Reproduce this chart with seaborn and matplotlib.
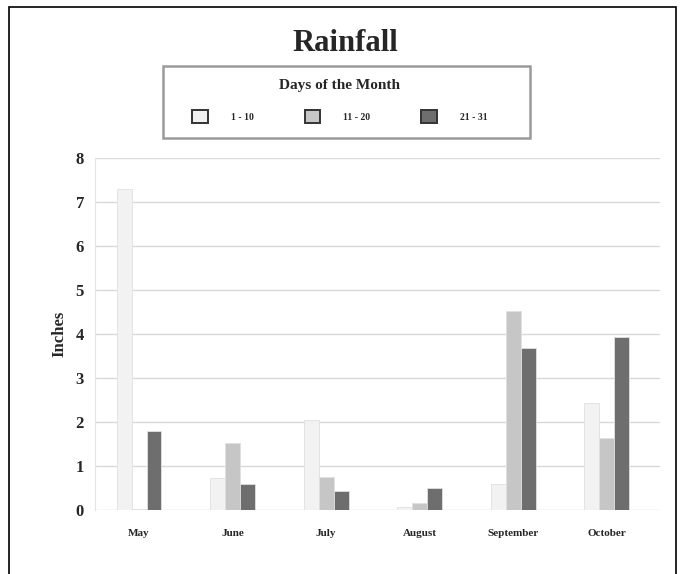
import seaborn as sns
import matplotlib.pyplot as plt
import matplotlib.patches as mpatches
import pandas as pd

months = ['May', 'June', 'July', 'August', 'September', 'October']
periods = ['1 - 10', '11 - 20', '21 - 31']
days_1_10 = [7.3, 0.72, 2.05, 0.07, 0.6, 2.43]
days_11_20 = [0.03, 1.52, 0.75, 0.15, 4.52, 1.63]
days_21_31 = [1.8, 0.6, 0.43, 0.5, 3.68, 3.93]
colors = ['#f2f2f2', '#c6c6c6', '#6e6e6e']

df = pd.DataFrame({
    'month': months * 3,
    'period': [p for p in periods for _ in months],
    'inches': days_1_10 + days_11_20 + days_21_31,
})

sns.set_style('white')
plt.rcParams['font.family'] = ['Liberation Serif', 'DejaVu Serif']

fig = plt.figure(figsize=(6.84, 5.74), dpi=100)
ax = fig.add_axes([0.139, 0.1115, 0.826, 0.6132])

sns.barplot(data=df, x='month', y='inches', hue='period', palette=colors,
            width=0.48, order=months, hue_order=periods, ax=ax,
            edgecolor='none', legend=False)
for bar in ax.patches:
    bar.set_edgecolor('#e0e0e0')
    bar.set_linewidth(0.6)

ax.set_ylim(0, 8)
ax.set_xlim(-0.47, 5.57)
ax.set_yticks(range(0, 9))
ax.yaxis.grid(True, color='#d8d8d8', linewidth=1)
ax.set_axisbelow(True)
for s in ['top', 'right', 'bottom']:
    ax.spines[s].set_visible(False)
ax.spines['left'].set_color('#e4e4e4')
ax.tick_params(axis='y', labelsize=12, length=0, pad=8)
ax.tick_params(axis='x', labelsize=8, length=0, pad=14)
for t in ax.get_yticklabels() + ax.get_xticklabels():
    t.set_fontweight('bold')
ax.set_xlabel('')
ax.set_ylabel('Inches', fontsize=12, fontweight='bold', labelpad=6)

fig.text(0.505, 0.925, 'Rainfall', ha='center', va='center',
         fontsize=22, fontweight='bold')

# legend box drawn separately so the entries can sit where they are
legend_box = mpatches.Rectangle((163 / 684, 1 - 138 / 574), 367 / 684, 72 / 574,
                                transform=fig.transFigure, fill=False,
                                edgecolor='#9a9a9a', linewidth=1.8)
fig.patches.append(legend_box)

handles = [mpatches.Patch(facecolor=c, edgecolor='#333333', linewidth=1.4)
           for c in colors]
leg = fig.legend(handles, periods, loc='center',
                 bbox_to_anchor=(0.497, 1 - 101 / 574),
                 ncol=3, title='Days of the Month', frameon=False,
                 fontsize=7, title_fontsize=11, handlelength=1.6,
                 handleheight=1.6, handletextpad=2.4, columnspacing=5.2,
                 borderpad=0, borderaxespad=0)
leg.get_title().set_fontweight('bold')
leg._legend_box.sep = 13
for t in leg.get_texts():
    t.set_fontweight('bold')

border = mpatches.Rectangle((9 / 684, -0.1), 667 / 684, 1.1 - 7 / 574,
                            transform=fig.transFigure, fill=False,
                            edgecolor='black', linewidth=1.2)
fig.patches.append(border)

fig.savefig('out.png', dpi=100)
